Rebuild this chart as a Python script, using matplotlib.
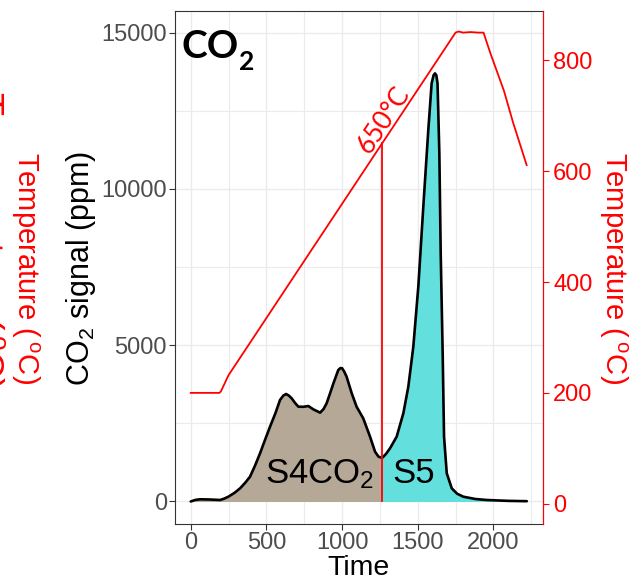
import matplotlib
matplotlib.use("Agg")
import matplotlib.pyplot as plt
from matplotlib.ticker import MultipleLocator

plt.rcParams['font.family'] = ['Liberation Sans', 'DejaVu Sans']
plt.rcParams['mathtext.fontset'] = 'custom'
plt.rcParams['mathtext.rm'] = 'Liberation Sans'
plt.rcParams['mathtext.it'] = 'Liberation Sans:italic'
plt.rcParams['mathtext.bf'] = 'Liberation Sans:bold'

# ---- data ----
co2_time = [0, 30, 61, 120, 194, 220, 249, 290, 326, 360, 392, 425, 458, 490,
            524, 560, 590, 612, 630, 648, 667, 690, 711, 745, 777, 810, 855,
            878, 898, 920, 943, 975, 990, 1001, 1015, 1030, 1064, 1096, 1140,
            1185, 1218, 1240, 1251, 1266, 1290, 1317, 1361, 1405, 1438, 1471,
            1504, 1537, 1570, 1592, 1605, 1614, 1623, 1631, 1643, 1652, 1665,
            1674, 1692, 1725, 1760, 1801, 1880, 1956, 2100, 2221]
co2_ppm = [0, 50, 70, 65, 48, 90, 154, 280, 421, 600, 795, 1150, 1541, 1960,
           2394, 2830, 3247, 3390, 3439, 3390, 3301, 3150, 3034, 3030, 3055,
           2949, 2842, 2960, 3141, 3450, 3781, 4207, 4270, 4261, 4150, 3994,
           3461, 3034, 2661, 2074, 1594, 1440, 1414, 1400, 1520, 1701, 2074,
           2821, 3674, 4954, 6874, 9434, 11885, 13378, 13640, 13698, 13640,
           13378, 11139, 7941, 4742, 2074, 902, 421, 250, 154, 80, 48, 20, 10]

temp_time = [0, 190, 200, 250, 1750, 1770, 1800, 1850, 1900, 1935, 1980, 2070,
             2130, 2220]
temp_c = [200, 200, 203, 232, 850, 852, 850, 851, 850, 850, 813, 745, 688, 611]

split_time = 1266      # boundary between S4CO2 and S5
split_temp = 650       # temperature at the boundary

x_ticks = [0, 500, 1000, 1500, 2000]
y_ticks = [0, 5000, 10000, 15000]
t_ticks = [0, 200, 400, 600, 800]

tan = '#B5A896'
cyan = '#63E0DE'
grid_c = '#EBEBEB'
gray_txt = '#4D4D4D'
temp_label = 'Temperature ($\\,^\\mathregular{o}$C)'

fig = plt.figure(figsize=(6.30, 5.82), dpi=100)
ax = fig.add_axes([174.7 / 630, 1 - 524 / 582, (543.3 - 174.7) / 630, (524 - 11) / 582])
ax.set_xlim(-106, 2330)
ax.set_ylim(-720, 15694)

ax2 = ax.twinx()
ax2.set_ylim(-36.6, 889)

# grid
ax.set_axisbelow(True)
ax.xaxis.set_minor_locator(MultipleLocator(250))
ax.yaxis.set_minor_locator(MultipleLocator(2500))
ax.grid(True, which='major', color=grid_c, lw=1.0)
ax.grid(True, which='minor', color=grid_c, lw=0.8)

# fills
left_t = [t for t in co2_time if t <= split_time]
left_v = [v for t, v in zip(co2_time, co2_ppm) if t <= split_time]
right_t = [t for t in co2_time if t >= split_time]
right_v = [v for t, v in zip(co2_time, co2_ppm) if t >= split_time]
ax.fill_between(left_t, 0, left_v, color=tan, lw=0, zorder=2)
ax.fill_between(right_t, 0, right_v, color=cyan, lw=0, zorder=2)

# vertical boundary line, from CO2 = 0 up to the 650 C point on the temperature line
y0_disp = ax.transData.transform((split_time, 0))
t0 = ax2.transData.inverted().transform(y0_disp)[1]
ax2.plot([split_time, split_time], [t0, split_temp], color='red', lw=1.3, zorder=3)

# curves
ax.plot(co2_time, co2_ppm, color='black', lw=1.9, zorder=4,
        solid_joinstyle='round', solid_capstyle='round')
ax2.plot(temp_time, temp_c, color='red', lw=1.3, zorder=5)

# ticks
ax.set_xticks(x_ticks)
ax.set_yticks(y_ticks)
ax2.set_yticks(t_ticks)
ax.tick_params(axis='both', which='major', labelsize=17, colors='#333333',
               labelcolor=gray_txt, length=4, width=0.8, pad=1.5)
ax.tick_params(axis='both', which='minor', length=0)
ax2.tick_params(axis='y', labelsize=17, colors='red', labelcolor='red',
                length=4, width=0.8, pad=3)

for s in ['left', 'top', 'bottom']:
    ax.spines[s].set_color('#333333')
    ax.spines[s].set_linewidth(0.8)
ax.spines['right'].set_visible(False)
for s in ['left', 'top', 'bottom']:
    ax2.spines[s].set_visible(False)
ax2.spines['right'].set_color('red')
ax2.spines['right'].set_linewidth(0.9)

# labels
fig.text(358 / 630, 1 - 575 / 582, 'Time', fontsize=20.5, color='black',
         ha='center', va='baseline')
fig.text(81 / 630, 1 - 268 / 582, 'CO$_2$ signal (ppm)', rotation=90,
         fontsize=22, ha='center', va='center', color='black')
fig.text(25 / 630, 1 - 268 / 582, temp_label, rotation=-90,
         fontsize=21, ha='center', va='center', color='red')
fig.text(613 / 630, 1 - 268 / 582, temp_label, rotation=-90,
         fontsize=21, ha='center', va='center', color='red')
# clipped label at the very left edge (only a sliver shows, as in the reference)
fig.text(-14 / 630, 1 - 240 / 582, temp_label, rotation=-90,
         fontsize=27, ha='center', va='center', color='red')

# panel title CO2
fig.text(182 / 630, 1 - 58.5 / 582, 'CO', fontsize=28, fontweight='bold',
         family='Lato', ha='left', va='baseline')
fig.text(239 / 630, 1 - 70 / 582, '2', fontsize=19, fontweight='bold',
         family='Lato', ha='left', va='baseline')

# annotations
ax2.text(1274, 693, '650°C', rotation=56.5, rotation_mode='anchor', fontsize=19,
         family='Lato', color='red', ha='center', va='center')
ax.text(491, 592, 'S4CO$_2$', fontsize=25, ha='left', va='baseline', zorder=6)
ax.text(1330, 592, 'S5', fontsize=25, ha='left', va='baseline', zorder=6)

fig.savefig('out.png', dpi=100)
